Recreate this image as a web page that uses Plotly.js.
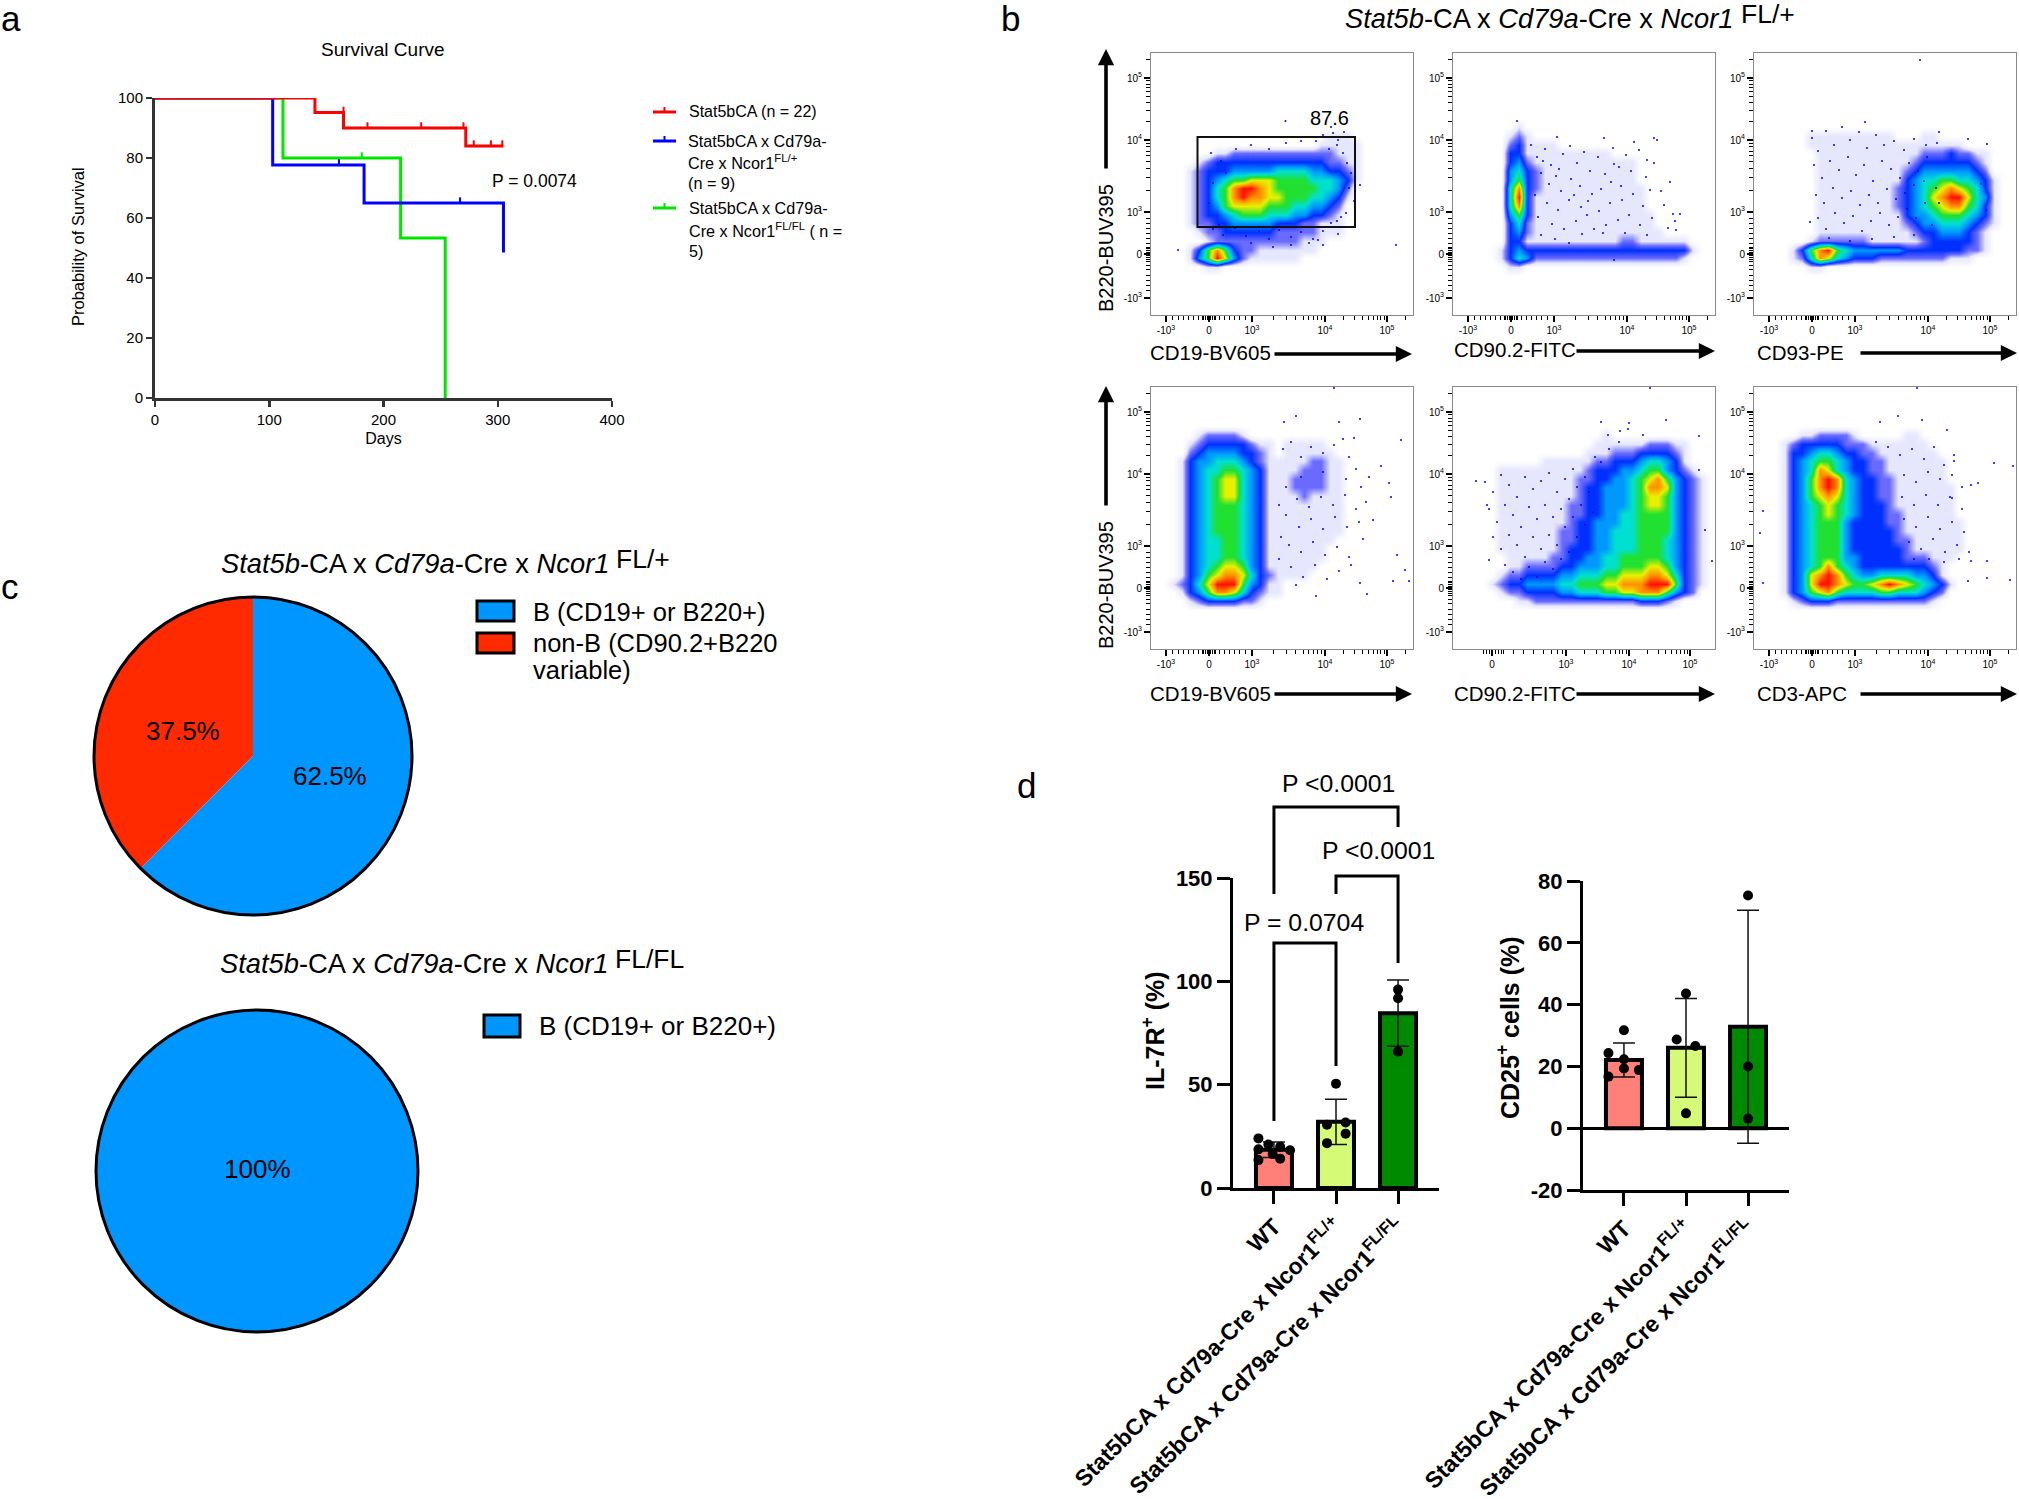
<!DOCTYPE html>
<html><head><meta charset="utf-8">
<script src="https://cdn.plot.ly/plotly-3.0.1.min.js"></script>
<style>html,body{margin:0;padding:0;background:#fff}</style></head>
<body><div id="chart" style="width:2019px;height:1499px"></div>
<script>
const W=2019,H=1499,FONT='"Liberation Sans", Arial, sans-serif';

/* Panel a: survival curves */
const redDays=[0,140,165,272,305],   redSurv=[100,95.2,90,84,84];
const blueDays=[0,103,183,305,305],  blueSurv=[100,77.7,65,65,48.5];
const greenDays=[0,112,215,254,254], greenSurv=[100,80,53.3,53.3,0];
const redCensorDays=[105,165,186,233,270,279,294,304], redCensorSurv=[100,95.2,90,90,90,84,84,84];
const blueCensorDays=[161,267],  blueCensorSurv=[77.7,65];
const greenCensorDays=[181],     greenCensorSurv=[80];

/* Panel c: pies */
const pieLabelsMixed=['B (CD19+ or B220+)','non-B (CD90.2+B220 variable)'];
const pieValuesMixed=[62.5,37.5];
const pieColoursMixed=['#0096ff','#ff2a00'];
const pieLabelsAllB=['B (CD19+ or B220+)'];
const pieValuesAllB=[100];

/* Panel d: bars and dots */
const genotypeLabels=['WT','Stat5bCA x Cd79a-Cre x Ncor1<sup>FL/+</sup>','Stat5bCA x Cd79a-Cre x Ncor1<sup>FL/FL</sup>'];
const barColours=['#ff8078','#d4fa78','#008a00'];
const il7rMeans=[18.5,32,84.6], il7rSd=[3.7,11,16];
const il7rDotX=[-.25,-.25,-.25,-.09,.1,.1,.26,-.02,1,.855,1.155,1.155,.855,2,2,2];
const il7rDotY=[24,18.7,13.5,21,19.9,14.2,18.3,16.4,50.5,30.6,31.7,26.3,21.7,96,91.8,66];
const cd25Means=[22.1,26,32.8], cd25Sd=[5.5,16,37.7];
const cd25DotX=[0,-.25,0,0,.24,-.25,1,.85,1.15,1,2,2,2];
const cd25DotY=[31.7,24.3,22.3,19.3,18.8,16.7,43.6,28.7,26.6,4.8,75.3,20,3.1];

/* Panel b: density levels read by eye, one string per row from the top, 0 empty .. 9 red */
const flowTL=['','','','','','','','','',
"00000 00000 00000 00000 11100 00000",
"00000 00000 00000 00001 11110 00000",
"00000 00112 22222 22222 21110 00000",
"00000 12333 33333 33333 22110 00000",
"00001 23334 44445 55544 33210 00000",
"00001 23456 67776 66655 54310 00000",
"00001 23568 99876 66665 54200 00000",
"00001 23568 98877 66655 43100 00000",
"00001 23467 77766 65544 32000 00000",
"00001 23345 66655 54433 21000 00000",
"00001 22334 44443 33221 11000 00000",
"00000 12233 33332 22221 11000 00000",
"00000 01222 22222 22111 00000 00000",
"00001 36863 22111 11110 00000 00000",
"00001 46974 21111 11000 00000 00000",
"00000 01100 00000 00000 00000 00000",'','','','',''];
const flowTM=['','','','','','','','',
"00000 00100 00000 00000 00000 00000",
"00000 01210 00000 00000 00000 00000",
"00000 02311 11000 00000 00000 00000",
"00000 03311 11111 11100 00000 00000",
"00000 03421 11111 11111 10000 00000",
"00000 04532 11111 11111 10000 00000",
"00000 04632 11111 11111 10000 00000",
"00000 05832 11111 11111 11000 00000",
"00000 05931 11111 11111 11000 00000",
"00000 05831 11111 11111 11000 00000",
"00000 04631 11111 11111 11100 00000",
"00000 03521 11111 11111 11100 00000",
"00000 03421 11111 11111 11110 00000",
"00000 03311 11111 11112 21111 11000",
"00000 13433 33333 33333 33333 33100",
"00000 13542 22222 22222 22222 21000",
"00000 01100 00000 00000 00000 00000",'','','','',''];
const flowTR=['','','','','','','','','',
"00000 01111 11111 10001 10000 00000",
"00000 01111 11111 11111 11110 00000",
"00000 00111 11111 11112 22322 11000",
"00000 00111 11111 11123 33333 21000",
"00000 00111 11111 11234 44444 32000",
"00000 00111 11111 11345 56655 43100",
"00000 00111 11111 12345 67876 53100",
"00000 00111 11111 12345 78997 54100",
"00000 00111 11111 12345 67886 53100",
"00000 00111 11111 11344 56665 43100",
"00000 00111 11111 11234 45554 32100",
"00000 00111 11111 11123 34443 21000",
"00000 01222 22211 11112 33333 21000",
"00001 36896 54444 44333 33332 21000",
"00001 25875 43332 22222 22111 00000",
"00000 01100 00000 00000 00000 00000",'','','','',''];
const flowBL=['','','','','',
"00000 12222 10000 00000 00000 00000",
"00001 23333 32110 11111 00000 00000",
"00002 34444 33210 11111 10000 00000",
"00013 44555 43211 11122 11000 00000",
"00013 45566 54311 11222 11000 00000",
"00013 45677 54311 12222 11000 00000",
"00013 45677 54311 12222 11000 00000",
"00013 45677 54311 11211 11000 00000",
"00013 45666 54311 11111 11000 00000",
"00013 45666 54311 11111 11000 00000",
"00013 45666 54311 11111 11000 00000",
"00013 45666 54311 11111 11000 00000",
"00013 45566 54311 11111 10000 00000",
"00013 45566 54311 11111 00000 00000",
"00013 45566 54311 11111 00000 00000",
"00013 45677 64311 11110 00000 00000",
"00013 46788 75321 11100 00000 00000",
"00123 57999 64311 00000 00000 00000",
"00013 46887 53211 00000 00000 00000",
"00001 23333 22100 00000 00000 00000",'','','','',''];
const flowBM=['','','','','',
"00000 00000 00000 00100 00000 00000",
"00000 00000 00000 01111 11222 11000",
"00000 00000 00000 11122 23333 21000",
"00000 00000 11111 12233 34554 31000",
"00000 11111 11111 23334 45664 32100",
"00000 11111 11112 23344 56786 43210",
"00000 11111 11112 33444 56887 43210",
"00000 11111 11112 33444 56776 43210",
"00000 11111 11122 33444 56776 43210",
"00000 11111 11122 33445 56666 43210",
"00000 11111 11123 34445 56666 43210",
"00000 11111 11223 34455 56666 43210",
"00000 11111 11223 34455 56665 43210",
"00000 11111 11233 34455 56665 43210",
"00000 01111 12233 44556 66665 43210",
"00000 01122 22334 44556 66776 43210",
"00000 12233 33445 55667 77887 53210",
"00001 23344 44556 66778 88999 63210",
"00000 12233 33445 55667 78886 43200",
"00000 00112 22222 22222 23332 10000",'','','','',''];
const flowBR=['','','','','',
"00000 11222 21000 00110 00000 00000",
"00012 33333 22211 11111 00000 00000",
"00013 34554 33221 11111 10000 00000",
"00013 45665 43322 11111 11000 00000",
"00013 45875 43322 11111 11000 00000",
"00013 46898 54332 21111 11000 00000",
"00013 46898 54332 21111 11100 00000",
"00013 46787 54332 21111 11100 00000",
"00013 45676 54333 21111 11100 00000",
"00013 45676 54333 22111 11100 00000",
"00013 45666 43333 22111 11110 00000",
"00013 45666 43333 32111 11110 00000",
"00013 45666 43333 32211 11110 00000",
"00013 45666 43333 33211 11110 00000",
"00013 45666 44333 33222 11100 00000",
"00013 45686 54333 33333 21000 00000",
"00013 47898 65445 55544 31000 00000",
"00013 47998 76678 98765 43100 00000",
"00013 46786 55556 65554 32000 00000",
"00001 23332 22222 22222 10000 00000",'','','','',''];

/* Single events read from the sparse areas, in pixels from the plot's top left corner */
const eventsTL=[[134.5,68],[245,192],[209,132],[180,74],[193,79],[187,87],[27,197],[187,181],[190,164],[167,187],[62,176],[72,182],[84,175],[95,183],[108,178],[118,186],[128,177],[140,184],[150,179],[162,186],[172,178],[180,170],[100,190],[122,194],[140,192],[158,190],[172,192],[68,172],[178,96],[186,92],[192,100],[196,110],[200,120],[198,135],[203,148],[195,160],[186,168],[60,100],[70,108],[85,96],[100,92],[118,96],[135,90],[150,88],[165,88],[172,82],[182,80],[190,84],[75,120],[62,130],[58,150]];
const eventsTM=[[64,68],[201,85],[204,87],[217,129],[220,161],[181,89],[151,85],[194,107],[227,161],[161,207],[104,84],[197,137],[161,111],[223,177],[78,92],[84,104],[92,96],[98,112],[88,120],[103,123],[110,101],[117,93],[124,110],[131,99],[96,131],[108,138],[118,126],[127,133],[137,118],[145,104],[152,121],[160,95],[166,114],[173,102],[82,142],[94,150],[105,157],[116,147],[128,154],[139,141],[148,136],[158,129],[168,133],[178,118],[186,97],[193,124],[85,164],[99,171],[111,176],[123,168],[134,162],[146,158],[157,150],[169,147],[180,141],[190,153],[201,110],[208,138],[88,182],[102,186],[116,190],[129,181],[141,176],[153,172],[165,167],[176,162],[187,172],[199,165],[211,152],[90,108],[106,116],[121,142],[135,148],[150,180],[172,180],[194,182],[215,175],[222,168]];
const eventsTR=[[166,7],[111,69],[58,78],[233,91],[56,169],[185,79],[214,86],[227,131],[232,157],[58,85],[64,98],[72,78],[80,92],[88,74],[96,87],[105,79],[113,95],[122,82],[130,92],[140,88],[150,97],[160,86],[172,92],[183,90],[60,112],[68,125],[76,108],[85,117],[94,104],[102,122],[110,112],[119,128],[128,108],[137,116],[146,125],[155,110],[164,118],[173,104],[62,142],[70,150],[79,135],[88,145],[97,138],[106,152],[115,142],[124,150],[133,136],[142,146],[151,140],[160,132],[170,128],[64,165],[72,176],[81,160],[90,170],[99,163],[108,178],[117,168],[126,160],[135,172],[144,164],[153,156],[162,165],[171,150],[178,172],[185,150],[182,135],[75,185],[96,188],[118,186],[140,184],[160,182]];
const eventsBL=[[183,1],[145,29],[133,35],[209,32],[188,35],[250,53],[230,79],[240,110],[222,133],[246,168],[254,183],[209,196],[242,194],[216,207],[258,194],[165,209],[238,96],[203,51],[132,62],[140,55],[150,70],[160,60],[172,66],[183,58],[192,52],[198,70],[205,82],[210,100],[135,100],[146,112],[158,120],[170,110],[182,118],[194,108],[205,122],[135,128],[148,140],[160,132],[172,142],[184,130],[196,140],[208,135],[138,158],[150,165],[162,155],[174,168],[186,160],[198,170],[140,180],[152,190],[164,178],[176,192],[188,184],[200,178],[145,198],[128,172],[130,150],[128,118],[215,115],[218,90],[212,152],[150,90],[172,85],[195,92]];
const eventsBM=[[197,1],[148,35],[176,36],[213,33],[167,44],[23,94],[34,118],[36,173],[246,49],[259,174],[252,143],[246,83],[155,48],[32,95],[40,105],[48,88],[56,98],[64,110],[72,90],[80,102],[88,94],[96,86],[104,105],[112,92],[120,82],[36,122],[44,135],[52,118],[60,128],[68,140],[76,120],[84,132],[92,118],[100,130],[108,122],[116,112],[124,100],[132,90],[40,150],[48,162],[56,148],[64,158],[72,170],[80,150],[88,162],[96,148],[104,158],[112,140],[120,130],[128,118],[136,105],[52,178],[60,185],[68,192],[76,180],[84,190],[92,175],[100,182],[108,172],[116,165],[124,150],[132,138],[140,125],[148,75],[156,62],[166,55],[142,70],[175,42],[190,48]];
const eventsBR=[[163,1],[144,29],[168,33],[193,43],[126,35],[200,74],[240,76],[217,98],[259,79],[198,111],[9,124],[6,146],[214,194],[233,191],[256,193],[9,196],[224,96],[217,174],[233,174],[122,55],[134,60],[146,68],[158,62],[170,72],[180,60],[190,78],[200,68],[150,88],[162,95],[174,85],[186,92],[198,88],[208,100],[148,110],[160,118],[172,108],[184,118],[196,110],[208,122],[150,132],[162,140],[174,130],[186,142],[198,135],[210,145],[155,155],[167,162],[179,152],[191,165],[203,158],[215,165],[160,172],[175,172],[190,175],[205,172]];

const decadeLabels=['-10<sup>3</sup>','0','10<sup>3</sup>','10<sup>4</sup>','10<sup>5</sup>'];
const flowColours=[[0,'#ffffff'],[1/9,'#e6e6ff'],[2/9,'#6a6aff'],[3/9,'#0030ff'],[4/9,'#0098ff'],[5/9,'#00e0d0'],[6/9,'#20e030'],[7/9,'#e8f000'],[8/9,'#ff9000'],[1,'#ff1000']];

const fx=x=>x/W, fy=y=>1-y/H;
const traces=[],shapes=[],annotations=[];
const layout={width:W,height:H,margin:{l:0,r:0,t:0,b:0,pad:0},paper_bgcolor:'#fff',plot_bgcolor:'#fff',showlegend:false,font:{family:FONT,color:'#000'},hovermode:false};

function txt(x,y,text,size,o={}){annotations.push({xref:'paper',yref:'paper',x:fx(x),y:fy(y),text:text,showarrow:false,xanchor:o.a||'left',yanchor:'middle',textangle:o.rot||0,font:{size:size,family:FONT,color:o.c||'#000',weight:o.w||400},borderpad:0});}
function line(x0,y0,x1,y1,c,w){shapes.push({type:'line',xref:'paper',yref:'paper',x0:fx(x0),y0:fy(y0),x1:fx(x1),y1:fy(y1),line:{color:c,width:w}});}
function rect(x0,y0,x1,y1,fill,w){shapes.push({type:'rect',xref:'paper',yref:'paper',x0:fx(x0),y0:fy(y0),x1:fx(x1),y1:fy(y1),fillcolor:fill,line:{color:'#000',width:w}});}
function arrow(x0,y0,x1,y1){annotations.push({xref:'paper',yref:'paper',x:fx(x1),y:fy(y1),ax:x0-x1,ay:y0-y1,text:'',showarrow:true,arrowhead:2,arrowsize:.9,arrowwidth:3.6,arrowcolor:'#000'});}
function dom(l,r,t,b){return {x:[fx(l),fx(r)],y:[fy(b),fy(t)]};}

/* ---------- panel letters ---------- */
txt(0,18,'a',35); txt(1000,18,'b',35); txt(0,586,'c',35); txt(1016,786,'d',35);

/* ---------- a ---------- */
const da=dom(155,612,98,398);
layout.xaxis={domain:da.x,anchor:'y',range:[0,400],tickvals:[0,100,200,300,400],ticks:'outside',ticklen:6,tickwidth:2.5,tickcolor:'#333',showline:true,linecolor:'#333',linewidth:3,showgrid:false,zeroline:false,tickfont:{size:15},title:{text:'Days',font:{size:16},standoff:6}};
layout.yaxis={domain:da.y,anchor:'x',range:[0,100],tickvals:[0,20,40,60,80,100],ticks:'outside',ticklen:6,tickwidth:2.5,tickcolor:'#333',showline:true,linecolor:'#333',linewidth:3,showgrid:false,zeroline:false,tickfont:{size:15}};
[[greenDays,greenSurv,'#00e600','Stat5bCA x Cd79a-Cre x Ncor1 FL/FL (n = 5)',greenCensorDays,greenCensorSurv],
 [blueDays,blueSurv,'#0000ff','Stat5bCA x Cd79a-Cre x Ncor1 FL/+ (n = 9)',blueCensorDays,blueCensorSurv],
 [redDays,redSurv,'#ff0000','Stat5bCA (n = 22)',redCensorDays,redCensorSurv]].forEach(s=>{
  traces.push({type:'scatter',mode:'lines',x:s[0],y:s[1],name:s[3],line:{color:s[2],width:3,shape:'hv'},cliponaxis:false,xaxis:'x',yaxis:'y'});
  traces.push({type:'scatter',mode:'markers',x:s[4],y:s[5],name:s[3]+' censored',marker:{size:1,color:s[2]},error_y:{type:'constant',value:1.9,valueminus:0,symmetric:false,width:0,thickness:2,color:s[2]},cliponaxis:false,xaxis:'x',yaxis:'y'});
});
txt(78,247,'Probability of Survival',16.5,{a:'center',rot:-90});
txt(383,50,'Survival Curve',19,{a:'center'});
txt(491,181,'P = 0.0074',17.5);
[[112,'#ff0000'],[141,'#0000ff'],[208,'#00e600']].forEach(k=>{line(653,k[0],676,k[0],k[1],3);line(664.5,k[0]-5,664.5,k[0],k[1],2);});
txt(688,112,'Stat5bCA (n = 22)',16);
txt(687,141,'Stat5bCA x Cd79a-',16.2);
txt(687,162,'Cre x Ncor1<sup>FL/+</sup>',16.2);
txt(687,183,'(n = 9)',16.2);
txt(688,208,'Stat5bCA x Cd79a-',16.2);
txt(688,230,'Cre x Ncor1<sup>FL/FL</sup> ( n =',16.2);
txt(688,251,'5)',16.2);

/* ---------- b ---------- */
txt(1344,19,'<i>Stat5b</i>-CA x <i>Cd79a</i>-Cre x <i>Ncor1</i>',27.3);
txt(1740,14,'FL/+',26.5);
const COLS=[1151,1453,1754], ROWS=[53,387], SIZE=262, CELLS=30;
const STD=[15,58,101,174,236], YT=[25,87,159,201,245];
function minorTicks(m,z,p3,p4,p5){
  const out=[],fr=[.04,.08,.12,.16,.25,.36,.48,.6,.72,.84];
  fr.forEach(f=>{out.push(z+(p3-z)*f);out.push(z+(m-z)*f);});
  for(let k=2;k<10;k++){out.push(p3+(p4-p3)*Math.log10(k));out.push(p4+(p5-p4)*Math.log10(k));
    const v=p5+(p5-p4)*Math.log10(k); if(v>0&&v<SIZE) out.push(v);}
  return out;
}
const panels=[
 [flowTL,eventsTL,0,0,STD,decadeLabels],
 [flowTM,eventsTM,1,0,STD,decadeLabels],
 [flowTR,eventsTR,2,0,STD,decadeLabels],
 [flowBL,eventsBL,0,1,STD,decadeLabels],
 [flowBM,eventsBM,1,1,[39,113,176,237],decadeLabels.slice(1)],
 [flowBR,eventsBR,2,1,STD,decadeLabels]];
panels.forEach((p,i)=>{
  const n=i+2,l=COLS[p[2]],t=ROWS[p[3]],d=dom(l,l+SIZE,t,t+SIZE);
  const xt=p[4];
  const xm=xt.length===5?minorTicks(xt[0],xt[1],xt[2],xt[3],xt[4]):[33,36,42,45,30,48,50,60,70,80,90,98,104,109].concat([2,3,4,5,6,7,8,9].flatMap(k=>[113+63*Math.log10(k),176+61*Math.log10(k)]));
  const base={showline:true,mirror:true,linecolor:'#8a8a8a',linewidth:1,showgrid:false,zeroline:false,ticks:'outside',ticklen:6,tickwidth:1.2,tickcolor:'#000',tickfont:{size:10}};
  layout['xaxis'+n]=Object.assign({},base,{domain:d.x,anchor:'y'+n,range:[0,SIZE],tickmode:'array',tickvals:xt,ticktext:p[5],minor:{tickmode:'array',tickvals:xm,ticks:'outside',ticklen:4,tickwidth:1,tickcolor:'#000',showgrid:false}});
  layout['yaxis'+n]=Object.assign({},base,{domain:d.y,anchor:'x'+n,range:[SIZE,0],tickmode:'array',tickvals:YT,ticktext:['10<sup>5</sup>','10<sup>4</sup>','10<sup>3</sup>','0','-10<sup>3</sup>'],minor:{tickmode:'array',tickvals:minorTicks(YT[4],YT[3],YT[2],YT[1],YT[0]),ticks:'outside',ticklen:4,tickwidth:1,tickcolor:'#000',showgrid:false}});
  const cell=SIZE/CELLS,z=p[0].map(r=>r.replace(/ /g,'').padEnd(CELLS,'0').split('').map(Number));
  const centres=Array.from({length:CELLS},(_,k)=>(k+.5)*cell);
  traces.push({type:'heatmap',x:centres,y:centres,z:z,zmin:0,zmax:9,zsmooth:'best',colorscale:flowColours,showscale:false,hoverinfo:'skip',xaxis:'x'+n,yaxis:'y'+n});
  traces.push({type:'scatter',mode:'markers',x:p[1].map(e=>e[0]),y:p[1].map(e=>e[1]),marker:{color:'#0000ff',size:2},hoverinfo:'skip',xaxis:'x'+n,yaxis:'y'+n});
});
shapes.push({type:'rect',xref:'x2',yref:'y2',x0:46.5,x1:204,y0:84,y1:174,line:{color:'#111',width:2},fillcolor:'rgba(0,0,0,0)'});
txt(1329,118,'87.6',20,{a:'center'});
[[1149,'CD19-BV605',1273,1412,354],[1453,'CD90.2-FITC',1575,1715,351],[1756,'CD93-PE',1859,2017,353],
 [1149,'CD19-BV605',1273,1412,694],[1453,'CD90.2-FITC',1575,1715,694],[1756,'CD3-APC',1859,2017,694]].forEach(a=>{
  txt(a[0],a[4]-1,a[1],20.5); arrow(a[2],a[4],a[3],a[4]);
});
txt(1106,248,'B220-BUV395',20,{a:'center',rot:-90});
txt(1106,585,'B220-BUV395',20,{a:'center',rot:-90});
arrow(1106,170,1106,49); arrow(1106,507,1106,386);

/* ---------- c ---------- */
function pie(labels,values,colours,cx,cy,r){
  traces.push({type:'pie',labels:labels,values:values,textinfo:'none',sort:false,direction:'clockwise',rotation:0,marker:{colors:colours,line:{width:0}},domain:{x:[fx(cx-r),fx(cx+r)],y:[fy(cy+r),fy(cy-r)]},hoverinfo:'skip'});
  shapes.push({type:'circle',xref:'paper',yref:'paper',x0:fx(cx-r),x1:fx(cx+r),y0:fy(cy+r),y1:fy(cy-r),line:{color:'#000',width:3},fillcolor:'rgba(0,0,0,0)'});
}
pie(pieLabelsMixed,pieValuesMixed,pieColoursMixed,253,756,159);
pie(pieLabelsAllB,pieValuesAllB,['#0096ff'],257,1171,161);
txt(330,776,pieValuesMixed[0]+'%',26,{a:'center'});
txt(183,731,pieValuesMixed[1]+'%',26,{a:'center'});
txt(257,1169,pieValuesAllB[0]+'%',26,{a:'center'});
txt(220,563,'<i>Stat5b</i>-CA x <i>Cd79a</i>-Cre x <i>Ncor1</i>',27.3);
txt(615,559,'FL/+',26.5);
txt(219,963,'<i>Stat5b</i>-CA x <i>Cd79a</i>-Cre x <i>Ncor1</i>',27.3);
txt(614,959,'FL/FL',26.5);
rect(477,601,514,621,'#0096ff',3); txt(532,612,'B (CD19+ or B220+)',25.5);
rect(477,633,514,653,'#ff2a00',3); txt(532,643,'non-B (CD90.2+B220',25.5); txt(532,670,'variable)',25.5);
rect(484,1015,520,1037,'#0096ff',3); txt(538,1026,'B (CD19+ or B220+)',26);

/* ---------- d ---------- */
function barPanel(n,l,r,t,b,yr,yt,means,sd,dx,dy){
  const d=dom(l,r,t,b);
  layout['xaxis'+n]={domain:d.x,anchor:'y'+n,range:[-.66,2.66],tickmode:'array',tickvals:[0,1,2],ticktext:genotypeLabels,tickangle:-45,ticks:'outside',ticklen:13,tickwidth:3,tickcolor:'#000',showline:true,linecolor:'#000',linewidth:3,showgrid:false,zeroline:false,tickfont:{size:23,family:FONT,weight:700}};
  layout['yaxis'+n]={domain:d.y,anchor:'x'+n,range:yr,tickmode:'array',tickvals:yt,ticktext:yt.map(String),ticks:'outside',ticklen:13,tickwidth:3,tickcolor:'#000',showline:true,linecolor:'#000',linewidth:3,showgrid:false,zeroline:yr[0]<0,zerolinecolor:'#000',zerolinewidth:3,tickfont:{size:22,weight:700}};
  traces.push({type:'bar',x:[0,1,2],y:means,width:.58,marker:{color:barColours,line:{color:'#000',width:4}},error_y:{type:'data',array:sd,visible:true,color:'#111',thickness:1.5,width:11},xaxis:'x'+n,yaxis:'y'+n});
  traces.push({type:'scatter',mode:'markers',x:dx,y:dy,marker:{color:'#000',size:10},cliponaxis:false,xaxis:'x'+n,yaxis:'y'+n});
}
barPanel(8,1233,1439,878,1188,[0,150],[0,50,100,150],il7rMeans,il7rSd,il7rDotX,il7rDotY);
barPanel(9,1583,1789,881,1190,[-20,80],[-20,0,20,40,60,80],cd25Means,cd25Sd,cd25DotX,cd25DotY);
txt(1153,1031,'IL-7R<sup>+</sup> (%)',25,{a:'center',rot:-90,w:700});
txt(1508,1028,'CD25<sup>+</sup> cells (%)',25,{a:'center',rot:-90,w:700});
function bracket(x0,x1,top,drop0,drop1){
  shapes.push({type:'path',xref:'x8',yref:'paper',path:`M ${x0} ${fy(drop0)} L ${x0} ${fy(top)} L ${x1} ${fy(top)} L ${x1} ${fy(drop1)}`,line:{color:'#000',width:3},fillcolor:'rgba(0,0,0,0)'});
}
bracket(0,2,807,894,827); bracket(1,2,876,894,963); bracket(0,1,943,1121,1066);
txt(1338,783,'P &lt;0.0001',24.8,{a:'center'});
txt(1378,850,'P &lt;0.0001',24.8,{a:'center'});
txt(1304,922,'P = 0.0704',24.8,{a:'center'});

layout.shapes=shapes; layout.annotations=annotations;
Plotly.newPlot('chart',traces,layout,{displayModeBar:false,staticPlot:true});
</script></body></html>
